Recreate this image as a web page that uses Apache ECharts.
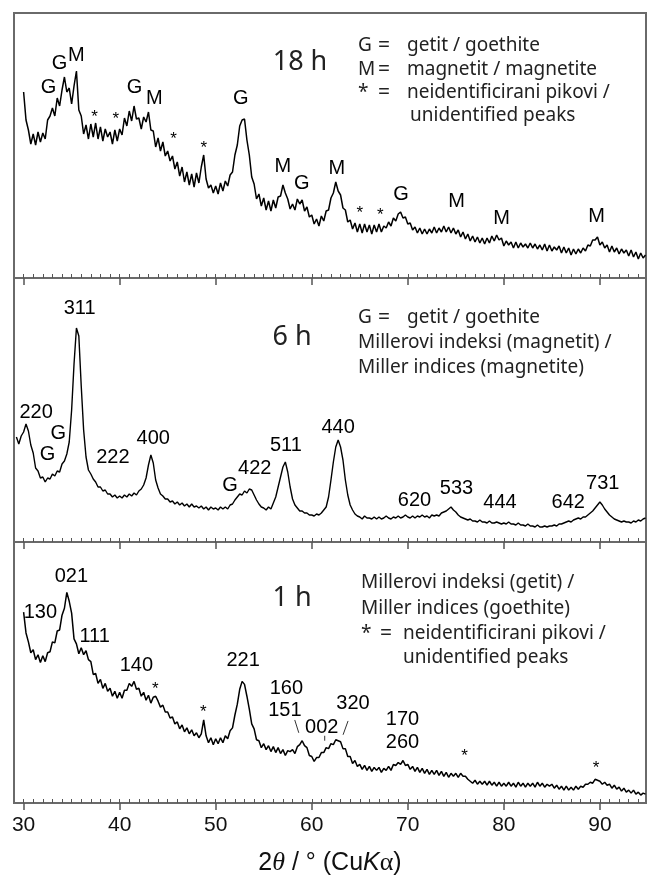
<!DOCTYPE html>
<html>
<head>
<meta charset="utf-8">
<script src="https://cdn.jsdelivr.net/npm/echarts@6/dist/echarts.min.js"></script>
<style>
  html, body { margin: 0; padding: 0; background: #fff; }
  #chart { width: 648px; height: 877px; }
</style>
</head>
<body>
<div id="chart"></div>
<script>
// 2theta step of the digitised patterns
const step = 0.25;

// 18 h pattern, from 30.00 deg
const start18h = 30;
const int18h = [
  186, 158, 148, 134,
  144, 133, 146, 136,
  145, 139, 158, 162,
  170, 162, 180, 172,
  188, 201, 186, 190,
  174, 192, 207, 168,
  162, 144, 153, 139,
  154, 141, 155, 139,
  151, 137, 149, 141,
  146, 134, 148, 137,
  149, 143, 160, 152,
  167, 157, 172, 159,
  160, 149, 161, 156,
  166, 148, 147, 131,
  140, 127, 136, 122,
  127, 117, 122, 109,
  116, 102, 111, 96,
  106, 93, 104, 91,
  105, 95, 111, 123,
  99, 90, 93, 85,
  92, 84, 95, 87,
  97, 92, 103, 106,
  123, 133, 152, 158,
  159, 138, 123, 101,
  94, 79, 84, 72,
  80, 68, 77, 67,
  78, 70, 81, 82,
  93, 85, 79, 69,
  74, 68, 79, 74,
  78, 67, 71, 61,
  63, 54, 59, 52,
  62, 57, 67, 68,
  80, 85, 96, 87,
  83, 70, 68, 56,
  58, 49, 55, 46,
  54, 45, 54, 46,
  53, 44, 53, 46,
  54, 46, 52, 50,
  56, 52, 60, 57,
  64, 66, 60, 61,
  54, 55, 48, 51,
  45, 50, 44, 49,
  44, 49, 45, 51,
  45, 50, 46, 52,
  46, 51, 45, 50,
  44, 48, 41, 46,
  39, 44, 37, 42,
  36, 41, 35, 40,
  34, 40, 35, 42,
  37, 43, 38, 40,
  32, 37, 33, 36,
  30, 36, 30, 35,
  31, 34, 30, 35,
  30, 34, 29, 33,
  28, 34, 27, 33,
  27, 31, 28, 32,
  25, 31, 25, 30,
  23, 29, 24, 29,
  25, 30, 27, 33,
  32, 38, 38, 41,
  33, 36, 30, 33,
  26, 32, 26, 30,
  24, 29, 25, 28,
  22, 28, 21, 26,
  19, 25, 20, 23
];

// 6 h pattern, from 29.25 deg
const start6h = 29.25;
const int6h = [
  105, 98, 106,
  110, 118, 111, 97,
  89, 74, 71, 64,
  65, 60, 64, 63,
  68, 66, 71, 70,
  78, 81, 88, 100,
  132, 178, 214, 206,
  156, 112, 85, 72,
  68, 63, 60, 55,
  55, 51, 52, 48,
  48, 45, 47, 44,
  46, 44, 47, 45,
  48, 46, 49, 47,
  51, 53, 57, 64,
  77, 87, 79, 62,
  54, 48, 46, 43,
  43, 40, 41, 38,
  40, 37, 39, 36,
  38, 35, 38, 35,
  36, 34, 36, 33,
  35, 32, 35, 33,
  34, 32, 35, 33,
  35, 33, 37, 38,
  42, 45, 48, 47,
  51, 49, 53, 52,
  47, 42, 38, 35,
  34, 32, 35, 33,
  39, 45, 55, 65,
  75, 80, 70, 55,
  43, 37, 34, 31,
  31, 29, 29, 27,
  27, 26, 28, 27,
  29, 32, 35, 45,
  62, 80, 95, 102,
  95, 82, 62, 47,
  37, 32, 28, 26,
  25, 23, 26, 24,
  24, 23, 25, 23,
  25, 23, 24, 26,
  24, 23, 25, 24,
  26, 24, 25, 27,
  25, 24, 26, 24,
  26, 25, 27, 25,
  26, 24, 27, 26,
  27, 26, 29, 30,
  31, 33, 35, 32,
  30, 27, 25, 24,
  23, 22, 23, 21,
  21, 20, 22, 20,
  20, 19, 21, 19,
  19, 20, 19, 18,
  19, 18, 20, 18,
  18, 17, 19, 17,
  17, 16, 18, 16,
  16, 15, 17, 15,
  15, 16, 15, 16,
  16, 17, 16, 18,
  18, 19, 20, 21,
  20, 22, 23, 24,
  23, 25, 25, 27,
  29, 31, 34, 37,
  40, 37, 33, 30,
  27, 25, 23, 22,
  21, 20, 21, 20,
  20, 19, 21, 20,
  22, 21, 23, 24
];

// 1 h pattern, from 30.00 deg
const start1h = 30;
const int1h = [
  193, 172, 163, 152,
  155, 145, 150, 142,
  149, 143, 152, 153,
  163, 162, 174, 175,
  190, 197, 213, 204,
  192, 166, 161, 151,
  157, 150, 154, 145,
  143, 130, 131, 121,
  125, 116, 121, 113,
  116, 108, 113, 106,
  112, 106, 114, 114,
  121, 118, 123, 115,
  116, 108, 112, 104,
  109, 101, 107, 108,
  103, 97, 99, 92,
  92, 86, 87, 80,
  82, 75, 79, 72,
  76, 70, 74, 68,
  71, 66, 70, 84,
  68, 61, 66, 59,
  65, 60, 66, 61,
  68, 65, 73, 76,
  89, 100, 115, 123,
  120, 108, 95, 80,
  75, 64, 63, 56,
  60, 54, 58, 52,
  57, 51, 56, 50,
  54, 48, 53, 52,
  54, 50, 57, 59,
  63, 58, 56, 48,
  47, 42, 46, 46,
  51, 51, 56, 55,
  60, 59, 64, 63,
  62, 55, 55, 47,
  47, 40, 43, 37,
  39, 34, 38, 33,
  37, 32, 36, 33,
  36, 31, 35, 33,
  37, 33, 39, 38,
  41, 39, 43, 38,
  39, 34, 37, 32,
  36, 31, 35, 30,
  34, 29, 33, 29,
  33, 28, 32, 27,
  31, 26, 30, 27,
  30, 26, 30, 27,
  27, 24, 22, 20,
  23, 19, 22, 19,
  22, 18, 22, 18,
  21, 17, 21, 17,
  20, 17, 21, 17,
  20, 16, 21, 17,
  20, 16, 20, 17,
  20, 16, 21, 17,
  20, 16, 19, 17,
  19, 15, 18, 14,
  17, 13, 17, 13,
  16, 13, 17, 14,
  17, 16, 19, 19,
  21, 20, 24, 23,
  22, 19, 21, 18,
  19, 15, 18, 14,
  16, 12, 15, 11,
  13, 10, 13, 9,
  11, 8, 10, 9
];

// peak labels: [2theta, intensity, text]
const peaks18h = [
  [32.6, 191, 'G'], [33.75, 215, 'G'], [35.5, 223, 'M'], [41.56, 191, 'G'], [43.6, 180, 'M'],
  [37.4, 165, '*'], [39.6, 163, '*'], [45.6, 143, '*'], [48.75, 134, '*'],
  [52.6, 180, 'G'], [57.0, 112, 'M'], [58.95, 95, 'G'], [62.6, 110, 'M'],
  [65.0, 69, '*'], [67.15, 67, '*'], [69.3, 84, 'G'], [75.07, 77, 'M'],
  [79.76, 60, 'M'], [89.65, 62, 'M']
];
const peaks6h = [
  [35.83, 234, '311'], [31.3, 130, '220'], [33.6, 109, 'G'], [32.5, 88, 'G'], [39.3, 85, '222'],
  [43.5, 104, '400'], [51.5, 57, 'G'], [54.06, 74, '422'], [57.3, 97, '511'], [62.74, 115, '440'],
  [70.7, 42, '620'], [75.07, 54, '533'], [79.6, 40, '444'], [86.7, 40, '642'], [90.3, 59, '731']
];
const peaks1h = [
  [34.97, 229, '021'], [31.75, 193, '130'], [37.4, 168, '111'], [41.74, 139, '140'], [43.7, 119, '*'],
  [48.7, 96, '*'], [52.85, 144, '221'], [57.36, 116, '160'], [57.2, 94, '151'], [61.04, 76, '002'],
  [64.3, 101, '320'], [69.45, 84, '170'], [69.45, 61, '260'], [75.9, 51, '*'], [89.6, 39, '*']
];
// leader strokes next to 151, 002 and 320
const leaders1h = [
  [[58.23, 84], [58.65, 71]],
  [[61.35, 68], [61.35, 63]],
  [[63.78, 83], [63.26, 69]]
];

const majorTicks = [30, 40, 50, 60, 70, 80, 90];
const minorTicks = [];
for (let t = 30; t <= 94; t++) minorTicks.push(t);

const panelNames = ['18 h', '6 h', '1 h'];
const legend18h = [['G', '=', 'getit / goethite'], ['M', '=', 'magnetit / magnetite'],
  ['*', '=', 'neidentificirani pikovi /'], ['', '', 'unidentified peaks']];
const legend6h = [['G', '=', 'getit / goethite'], ['', '', 'Millerovi indeksi (magnetit) /'],
  ['', '', 'Miller indices (magnetite)']];
const legend1h = [['', '', 'Millerovi indeksi (getit) /'], ['', '', 'Miller indices (goethite)'],
  ['*', '=', 'neidentificirani pikovi /'], ['', '', 'unidentified peaks']];

let toPairs = (start, vals) => vals.map((v, i) => [start + i * step, v]);

const chart = echarts.init(document.getElementById('chart'));

const panels = [
  { top: 13, height: 265 },
  { top: 278, height: 264 },
  { top: 542, height: 264 }
];
const xMin = 29, xMax = 94.8;
const labelFont = '"Liberation Sans", Arial, sans-serif';
const textFont = '"Noto Sans", "Open Sans", sans-serif';

const grids = panels.map(p => ({
  left: 14, right: 2, top: p.top, height: p.height,
  show: true, borderColor: '#6a6a6a', borderWidth: 2, backgroundColor: 'transparent'
}));

const xAxes = [];
panels.forEach((p, i) => {
  const last = i === panels.length - 1;
  xAxes.push({
    type: 'value', gridIndex: i, min: xMin, max: xMax,
    axisLine: { show: true, onZero: false, lineStyle: { color: '#6a6a6a', width: 2 } },
    axisTick: { show: true, customValues: majorTicks, length: 7, lineStyle: { color: '#555', width: 1.5 } },
    axisLabel: last ? {
      show: true, customValues: majorTicks, fontSize: 21, color: '#111', margin: 12, fontFamily: labelFont
    } : { show: false },
    splitLine: { show: false },
    name: last ? '{a|2}{t|θ}{a| / ° (Cu}{k|K}{g|α}{a|)}' : '',
    nameLocation: 'middle',
    nameGap: 47,
    nameTextStyle: {
      rich: {
        a: { fontSize: 25, fontFamily: labelFont, color: '#111' },
        t: { fontSize: 26, fontFamily: '"Liberation Serif", serif', fontStyle: 'italic', color: '#111' },
        k: { fontSize: 25, fontFamily: labelFont, fontStyle: 'italic', color: '#111' },
        g: { fontSize: 26, fontFamily: '"Liberation Serif", serif', color: '#111' }
      }
    }
  });
  xAxes.push({
    type: 'value', gridIndex: i, min: xMin, max: xMax,
    axisLine: { show: false },
    axisTick: { show: true, customValues: minorTicks, length: 4, lineStyle: { color: '#555', width: 1 } },
    axisLabel: { show: false },
    splitLine: { show: false }
  });
});

const yAxes = panels.map((p, i) => ({
  type: 'value', gridIndex: i, min: 0, max: p.height, show: false
}));

const traceSeries = [
  [start18h, int18h], [start6h, int6h], [start1h, int1h]
].map((d, i) => ({
  type: 'line', xAxisIndex: i * 2, yAxisIndex: i,
  data: toPairs(d[0], d[1]),
  symbol: 'none', silent: true,
  lineStyle: { color: '#000', width: i === 1 ? 1.4 : 1.5 }
}));

const labelSeries = [];
[peaks18h, peaks6h, peaks1h].forEach((list, i) => {
  const words = list.filter(d => d[2] !== '*');
  const stars = list.filter(d => d[2] === '*');
  labelSeries.push({
    type: 'scatter', xAxisIndex: i * 2, yAxisIndex: i, data: words,
    symbolSize: 1, itemStyle: { color: 'transparent' }, silent: true,
    label: {
      show: true, position: 'inside', formatter: p => p.data[2],
      fontSize: 20, color: '#000', fontFamily: labelFont,
      textBorderWidth: 0, opacity: 1
    }
  });
  labelSeries.push({
    type: 'scatter', xAxisIndex: i * 2, yAxisIndex: i, data: stars,
    symbolSize: 1, itemStyle: { color: 'transparent' }, silent: true,
    label: {
      show: true, position: 'inside', formatter: '*', offset: [0, 4],
      fontSize: 17, color: '#000', fontFamily: labelFont,
      textBorderWidth: 0, opacity: 1
    }
  });
});

const leaderSeries = leaders1h.map(seg => ({
  type: 'line', xAxisIndex: 4, yAxisIndex: 2, data: seg,
  symbol: 'none', silent: true,
  lineStyle: { color: '#333', width: 1 }
}));

// panel names and keys
const graphics = [];
const namePos = [[300, 62], [292, 337], [292, 598]];
panelNames.forEach((n, i) => {
  graphics.push({
    type: 'text', x: namePos[i][0], y: namePos[i][1],
    style: { text: n, font: '27px ' + textFont, fill: '#222', align: 'center', verticalAlign: 'middle' }
  });
});
let addKey = (rows, ys, cols) => {
  rows.forEach((r, k) => {
    const y = ys[k];
    if (r[0]) graphics.push({ type: 'text', x: cols[0], y, style: { text: r[0], font: '19px ' + textFont, fill: '#222', verticalAlign: 'middle' } });
    if (r[1]) graphics.push({ type: 'text', x: cols[1], y, style: { text: r[1], font: '21px ' + textFont, fill: '#222', verticalAlign: 'middle' } });
    const x = r[1] ? cols[2] : (r[0] === '' && k > 0 && rows[k - 1][1] ? cols[3] : cols[0]);
    graphics.push({ type: 'text', x, y, style: { text: r[2], font: '19px ' + textFont, fill: '#222', verticalAlign: 'middle' } });
  });
};
addKey(legend18h, [46, 70, 93, 116], [358, 378, 407, 410]);
addKey(legend6h, [318, 343, 368], [358, 378, 407, 358]);
addKey(legend1h, [583, 609, 634, 658], [361, 380, 403, 403]);

chart.setOption({
  animation: false,
  backgroundColor: '#fff',
  grid: grids,
  xAxis: xAxes,
  yAxis: yAxes,
  series: [...traceSeries, ...labelSeries, ...leaderSeries],
  graphic: graphics
});
</script>
</body>
</html>
